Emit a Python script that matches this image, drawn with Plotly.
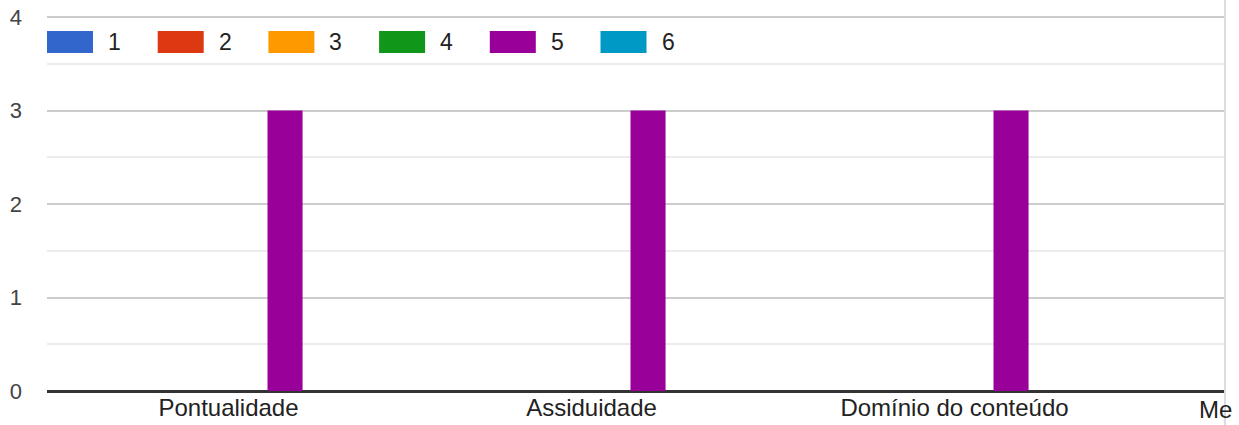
import plotly.graph_objects as go

# ---- data ----
categories = ["Pontualidade", "Assiduidade", "Domínio do conteúdo", "Metodologia de ensino"]
series_names = ["1", "2", "3", "4", "5", "6"]
values_1 = [0, 0, 0, 0]
values_2 = [0, 0, 0, 0]
values_3 = [0, 0, 0, 0]
values_4 = [0, 0, 0, 0]
values_5 = [3, 3, 3, 3]
values_6 = [0, 0, 0, 0]
y_ticks = [0, 1, 2, 3, 4]

series_values = [values_1, values_2, values_3, values_4, values_5, values_6]
colors = ["#3366cc", "#dc3912", "#ff9900", "#109618", "#990099", "#0099c6"]

# ---- layout geometry (pixels) ----
W, H = 1234, 425
unit = 93.5                      # pixels per y unit
plot_left, plot_right = 47, 1224
plot_bottom = 391
plot_top = 16
pw = plot_right - plot_left
ph = plot_bottom - plot_top
x_range = [-0.5, -0.5 + pw / 363.0]
y_range = [0, ph / unit]

def px_x(px):
    return (px - plot_left) / pw

def px_y(py):
    return (plot_bottom - py) / ph

fig = go.Figure()
for name, vals, col in zip(series_names, series_values, colors):
    fig.add_trace(go.Bar(
        x=list(range(len(categories))), y=vals, name=name,
        marker=dict(color=col, line=dict(width=0)),
        showlegend=False, hoverinfo="skip",
    ))

FONT = "Arial, Liberation Sans, sans-serif"

# custom legend: wide swatches like the original
shapes = []
annotations = []
for i, (name, col) in enumerate(zip(series_names, colors)):
    x0 = 47 + i * 110.7
    shapes.append(dict(type="rect", xref="paper", yref="paper",
                       x0=px_x(x0), x1=px_x(x0 + 46), y0=px_y(53), y1=px_y(31),
                       fillcolor=col, line=dict(width=0), layer="above"))
    annotations.append(dict(xref="paper", yref="paper", x=px_x(x0 + 59), y=px_y(42),
                            text=name, showarrow=False, xanchor="left", yanchor="middle",
                            font=dict(family=FONT, size=23, color="#222222")))

# top gridline (value 4) drawn explicitly
shapes.append(dict(type="line", xref="paper", yref="y", x0=0, x1=1, y0=y_ticks[-1], y1=y_ticks[-1],
                   line=dict(color="#cccccc", width=2), layer="below"))

# vertical border line at the right edge
shapes.append(dict(type="line", xref="paper", yref="paper",
                   x0=px_x(1225), x1=px_x(1225), y0=-0.2, y1=1.2,
                   line=dict(color="#dcdce2", width=2), layer="above"))

# visible start of the fourth category label (cut off by the frame in the original)
annotations.append(dict(xref="paper", yref="paper", x=px_x(1197), y=px_y(409),
                        text=categories[3][:2], showarrow=False, xanchor="left", yanchor="middle",
                        font=dict(family=FONT, size=24, color="#222222")))

fig.update_layout(
    width=W, height=H,
    margin=dict(l=plot_left, r=W - plot_right, t=plot_top, b=H - plot_bottom, pad=0, autoexpand=False),
    paper_bgcolor="white", plot_bgcolor="white",
    barmode="group", bargap=0.377, bargroupgap=0.07,
    font=dict(family=FONT),
    shapes=shapes, annotations=annotations,
    xaxis=dict(
        range=x_range, tickmode="array", automargin=False,
        tickvals=list(range(3)), ticktext=categories[:3],
        showgrid=False, zeroline=False, showline=False, ticks="",
        tickfont=dict(size=24, color="#222222"),
    ),
    yaxis=dict(
        range=y_range, tickmode="array", tickvals=y_ticks, automargin=False,
        showgrid=True, gridcolor="#cccccc", gridwidth=2,
        minor=dict(dtick=0.5, showgrid=True, gridcolor="#ebebeb", gridwidth=2),
        zeroline=True, zerolinecolor="#333333", zerolinewidth=3,
        showline=False, ticks="", ticklabelstandoff=24,
        tickfont=dict(size=22, color="#444444"),
    ),
)

fig.write_html("out.html", config={"displayModeBar": False},
               post_script="document.body.style.margin='0';document.body.style.overflow='hidden';")
